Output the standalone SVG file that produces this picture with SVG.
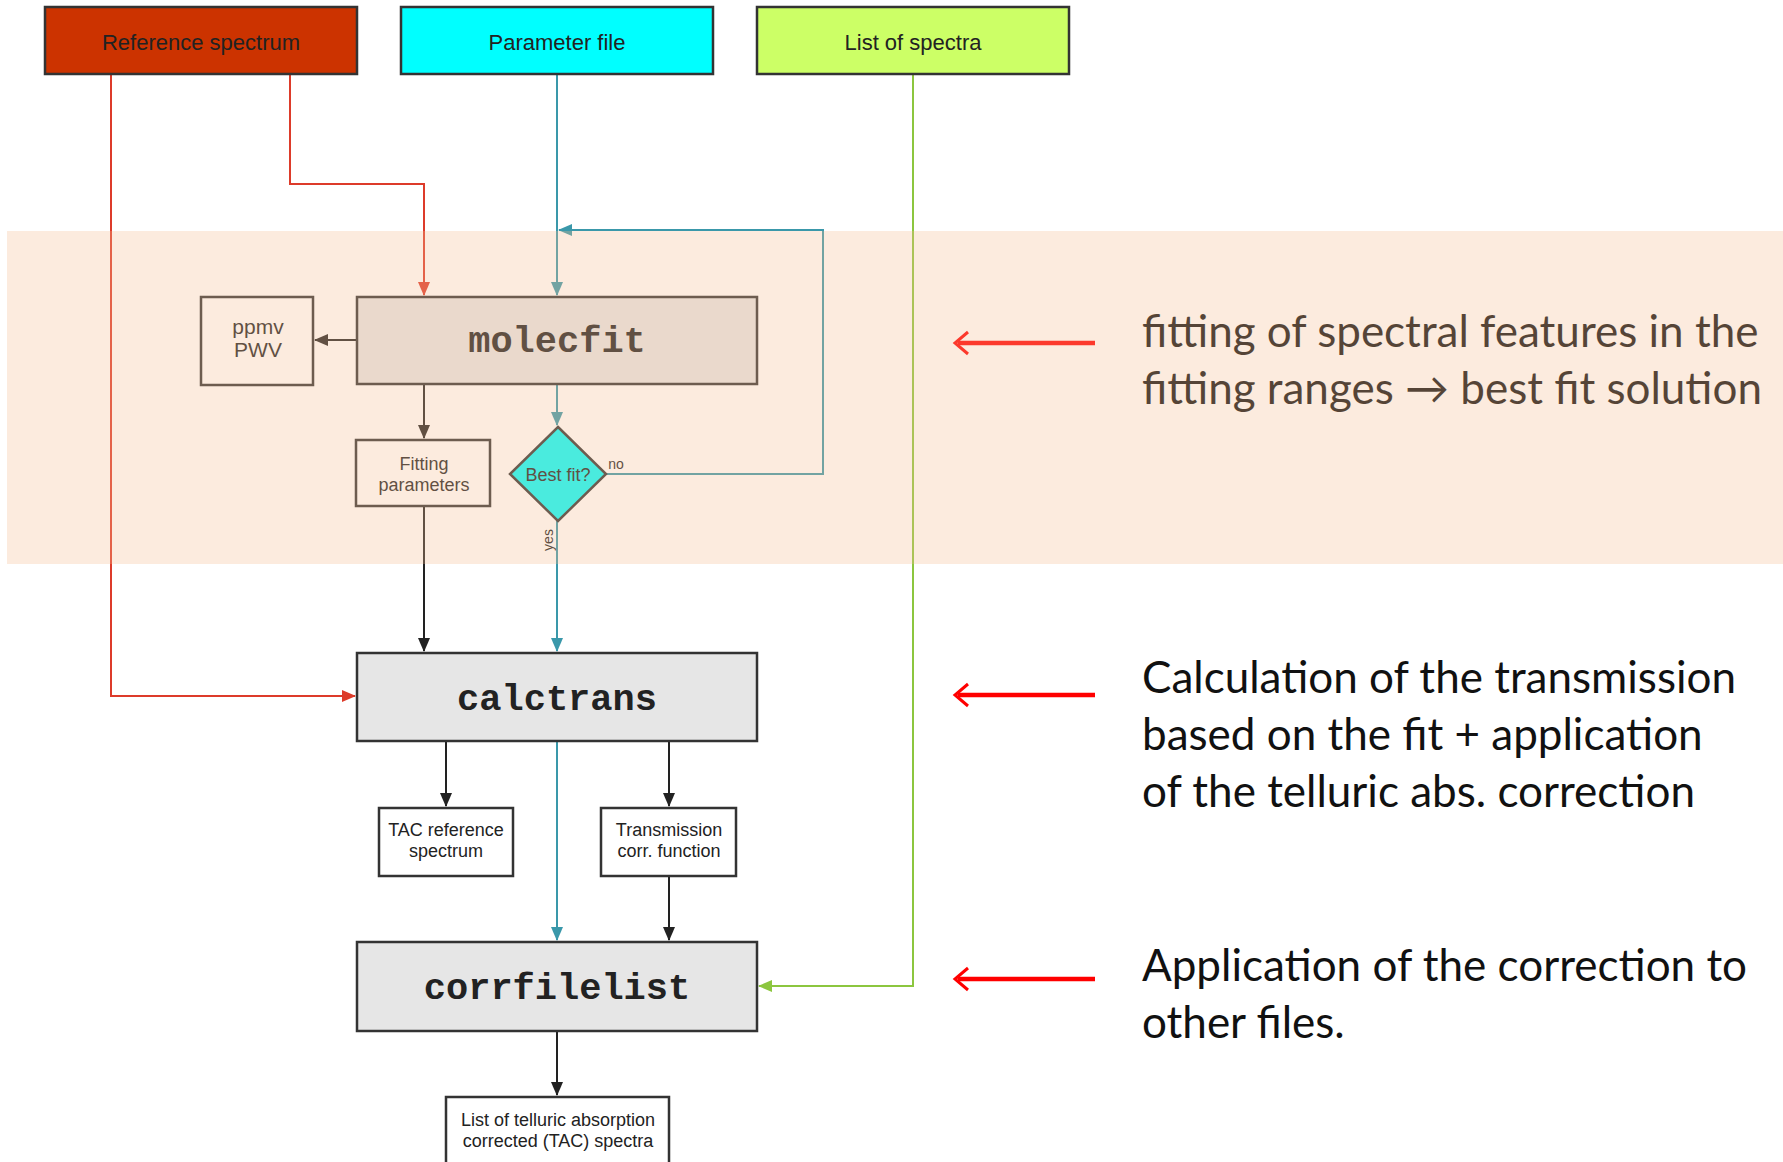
<svg xmlns="http://www.w3.org/2000/svg" width="1783" height="1162" viewBox="0 0 1783 1162">
<style>
.box{stroke:#333;stroke-width:2.5}
.lbl{font-family:"Liberation Sans",Arial,sans-serif;fill:#222;text-anchor:middle}
.mono{font-family:"Liberation Mono","Courier New",monospace;font-weight:bold;font-size:37px;fill:#222;text-anchor:middle}
.note{font-family:Lato,"Open Sans",sans-serif;font-size:44px;fill:#111}
.ln{fill:none;stroke-width:2}
.red{stroke:#dd3b2a}
.teal{stroke:#3a98aa}
.grn{stroke:#8cc63f}
.blk{stroke:#222}
.big{fill:none;stroke:#f00;stroke-width:4.5}
.chev{fill:none;stroke:#f00;stroke-width:3}
</style>
<defs>
<marker id="aRed" markerWidth="14" markerHeight="12" refX="13" refY="6" orient="auto" markerUnits="userSpaceOnUse"><path d="M0,0 L14,6 L0,12 Z" fill="#dd3b2a"/></marker>
<marker id="aTeal" markerWidth="14" markerHeight="12" refX="13" refY="6" orient="auto" markerUnits="userSpaceOnUse"><path d="M0,0 L14,6 L0,12 Z" fill="#3a98aa"/></marker>
<marker id="aGrn" markerWidth="14" markerHeight="12" refX="13" refY="6" orient="auto" markerUnits="userSpaceOnUse"><path d="M0,0 L14,6 L0,12 Z" fill="#8cc63f"/></marker>
<marker id="aBlk" markerWidth="14" markerHeight="12" refX="13" refY="6" orient="auto" markerUnits="userSpaceOnUse"><path d="M0,0 L14,6 L0,12 Z" fill="#222"/></marker>
</defs>
<rect width="1783" height="1162" fill="#fff"/>

<g id="connectors">
<path class="ln red" d="M111,74 V696 H355" marker-end="url(#aRed)"/>
<path class="ln red" d="M290,74 V184 H424 V295" marker-end="url(#aRed)"/>
<path class="ln teal" d="M557,74 V295" marker-end="url(#aTeal)"/>
<path class="ln teal" d="M606,474 H823 V230 H559" marker-end="url(#aTeal)"/>
<path class="ln grn" d="M913,74 V986 H759" marker-end="url(#aGrn)"/>
<path class="ln blk" d="M357,340 H315" marker-end="url(#aBlk)"/>
<path class="ln blk" d="M424,384 V438" marker-end="url(#aBlk)"/>
<path class="ln teal" d="M557,384 V425" marker-end="url(#aTeal)"/>
<path class="ln blk" d="M424,506 V651" marker-end="url(#aBlk)"/>
<path class="ln teal" d="M557,521 V651" marker-end="url(#aTeal)"/>
<path class="ln blk" d="M446,741 V806" marker-end="url(#aBlk)"/>
<path class="ln blk" d="M669,741 V806" marker-end="url(#aBlk)"/>
<path class="ln teal" d="M557,741 V940" marker-end="url(#aTeal)"/>
<path class="ln blk" d="M669,876 V940" marker-end="url(#aBlk)"/>
<path class="ln blk" d="M557,1031 V1095" marker-end="url(#aBlk)"/>
</g>

<g id="ref-spectrum"><rect class="box" x="45" y="7" width="312" height="67" fill="#cc3300"/><text class="lbl" x="201" y="50" font-size="22">Reference spectrum</text></g>
<g id="param-file"><rect class="box" x="401" y="7" width="312" height="67" fill="#00ffff"/><text class="lbl" x="557" y="50" font-size="22">Parameter file</text></g>
<g id="list-spectra"><rect class="box" x="757" y="7" width="312" height="67" fill="#ccff66"/><text class="lbl" x="913" y="50" font-size="22">List of spectra</text></g>

<g id="molecfit"><rect class="box" x="357" y="297" width="400" height="87" fill="#e6e6e6"/><text class="mono" x="557" y="352">molecfit</text></g>
<g id="ppmv"><rect class="box" x="201" y="297" width="112" height="88" fill="#fff"/><text class="lbl" x="258" y="334" font-size="21">ppmv</text><text class="lbl" x="258" y="357" font-size="21">PWV</text></g>
<g id="fitting-params"><rect class="box" x="356" y="440" width="134" height="66" fill="#fff"/><text class="lbl" x="424" y="470" font-size="18">Fitting</text><text class="lbl" x="424" y="491" font-size="18">parameters</text></g>
<g id="best-fit"><path class="box" d="M558,427 L606,474 L558,521 L510,474 Z" fill="#00ffff"/><text class="lbl" x="558" y="481" font-size="18">Best fit?</text><text class="lbl" x="616" y="469" font-size="14">no</text><text class="lbl" font-size="14" transform="translate(553,540) rotate(-90)">yes</text></g>

<g id="calctrans"><rect class="box" x="357" y="653" width="400" height="88" fill="#e6e6e6"/><text class="mono" x="557" y="710">calctrans</text></g>
<g id="tac-ref"><rect class="box" x="379" y="808" width="134" height="68" fill="#fff"/><text class="lbl" x="446" y="836" font-size="18">TAC reference</text><text class="lbl" x="446" y="857" font-size="18">spectrum</text></g>
<g id="trans-corr"><rect class="box" x="601" y="808" width="135" height="68" fill="#fff"/><text class="lbl" x="669" y="836" font-size="18">Transmission</text><text class="lbl" x="669" y="857" font-size="18">corr. function</text></g>
<g id="corrfilelist"><rect class="box" x="357" y="942" width="400" height="89" fill="#e6e6e6"/><text class="mono" x="557" y="999">corrfilelist</text></g>
<g id="tac-list"><rect class="box" x="446" y="1097" width="223" height="80" fill="#fff"/><text class="lbl" x="558" y="1126" font-size="18">List of telluric absorption</text><text class="lbl" x="558" y="1147" font-size="18">corrected (TAC) spectra</text></g>

<g id="notes">
<path class="big" d="M1095,343 H958"/><path class="chev" d="M968,332 L955,343 L968,354"/>
<path class="big" d="M1095,695 H958"/><path class="chev" d="M968,684 L955,695 L968,706"/>
<path class="big" d="M1095,979 H958"/><path class="chev" d="M968,968 L955,979 L968,990"/>
<text class="note" x="1142" y="347">fitting of spectral features in the</text>
<text class="note" x="1142" y="404">fitting ranges → best fit solution</text>
<text class="note" x="1142" y="693">Calculation of the transmission</text>
<text class="note" x="1142" y="750">based on the fit + application</text>
<text class="note" x="1142" y="807">of the telluric abs. correction</text>
<text class="note" x="1142" y="981">Application of the correction to</text>
<text class="note" x="1142" y="1038">other files.</text>
</g>

<rect id="band" x="7" y="231" width="1776" height="333" fill="rgb(245,190,147)" opacity="0.3"/>
</svg>
